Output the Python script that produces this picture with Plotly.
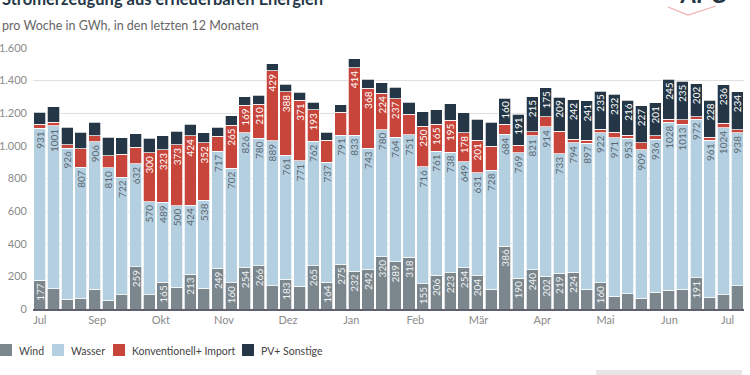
import plotly.graph_objects as go

# ---------------- data ----------------
weeks = list(range(52))
wind = [177,123,61,62,120,55,86,259,87,165,134,213,128,249,160,254,266,142,183,138,265,164,275,232,242,320,
        289,318,155,206,223,254,204,122,386,190,240,202,219,224,120,160,79,94,67,104,116,120,191,73,87,142]
wasser = [931,1001,926,807,906,810,722,632,570,489,500,424,538,717,702,826,780,889,761,771,762,737,791,833,743,780,
          764,751,716,761,738,649,631,728,684,769,821,914,733,794,897,922,971,953,909,936,1028,1013,972,961,1024,938]
konv = [24,20,21,112,35,74,141,102,300,323,373,424,352,92,265,169,210,429,388,371,193,133,139,414,368,224,
        237,125,250,165,195,178,201,149,63,44,25,64,138,23,18,19,33,17,43,22,20,27,17,18,28,18]
pv = [73,97,106,102,84,115,102,81,90,85,83,72,64,57,57,51,53,44,46,49,46,49,46,56,55,62,
      68,72,88,91,102,122,128,147,160,191,215,175,209,242,241,235,232,216,227,201,245,235,202,228,236,234]
series_names = ["Wind", "Wasser", "Konventionell+ Import", "PV+ Sonstige"]
month_labels = ["Jul", "Sep", "Okt", "Nov", "Dez", "Jan", "Feb", "Mär", "Apr", "Mai", "Jun", "Jul"]
month_ticks = [0, 4.19, 8.85, 13.47, 18.15, 22.78, 27.46, 32.09, 36.75, 41.37, 46.05, 50.3]

FONT = "Lato"
W, H = 750, 375
ML, MR, MT, MB = 33, 6, 48, 66
PW, PH = W - ML - MR, H - MT - MB

def px_x(p):
    return (p - ML) / PW

def px_y(p):
    return 1 - (p - MT) / PH

def labels(vals, always=False):
    return [str(v) if (always or v >= 150) else "" for v in vals]

styles = [
    # bar colour, label colour, always label, legend square x
    ("#7b868d", "#eef2f4", False, 0),
    ("#b4cfdf", "#5b6872", True, 52),
    ("#c8453b", "#ffffff", False, 113),
    ("#253746", "#ffffff", False, 242),
]

fig = go.Figure()
for name, vals, (col, tcol, always, sq_x) in zip(series_names, [wind, wasser, konv, pv], styles):
    fig.add_trace(go.Bar(
        x=weeks, y=vals, name=name, showlegend=False,
        marker=dict(color=col, line=dict(color="rgba(255,255,255,0.9)", width=0.8)),
        text=labels(vals, always), textposition="inside", insidetextanchor="end",
        textangle=-90, textfont=dict(family=FONT, size=10, color=tcol),
        constraintext="none", cliponaxis=False, hoverinfo="skip",
    ))
    # legend entry: coloured square + label
    fig.add_shape(type="rect", xref="paper", yref="paper",
                  x0=px_x(sq_x), x1=px_x(sq_x + 12), y0=px_y(356), y1=px_y(344),
                  fillcolor=col, line=dict(width=0))
    fig.add_annotation(text=name, xref="paper", yref="paper", x=px_x(sq_x + 17), y=px_y(350.5),
                       xanchor="left", yanchor="middle", showarrow=False,
                       font=dict(family=FONT, size=10.5, color="#444"))

fig.update_layout(
    width=W, height=H,
    barmode="stack", bargap=0.12,
    separators=",.",
    paper_bgcolor="white", plot_bgcolor="white",
    margin=dict(l=ML, r=MR, t=MT, b=MB, autoexpand=False),
    font=dict(family=FONT, color="#555"),
    uniformtext=dict(minsize=10, mode="show"),
    showlegend=False,
    xaxis=dict(range=[-0.5, 51.5], tickvals=month_ticks, ticktext=month_labels, automargin=False,
               showgrid=False, showline=True, linecolor="#5f5f6e", linewidth=1.5,
               ticks="", tickfont=dict(family=FONT, size=11, color="#8a8a8a"), zeroline=False),
    yaxis=dict(range=[0, 1600], dtick=200, tickformat=",d", showgrid=True, gridcolor="#e0e0e0",
               gridwidth=1, zeroline=False, ticks="", ticklabelstandoff=5, automargin=False,
               tickfont=dict(family=FONT, size=11, color="#8a8a8a")),
)

# title (partly cut at the top of the frame, as in the reference) and subtitle
fig.add_annotation(text="<b>Stromerzeugung aus erneuerbaren Energien</b>", xref="paper", yref="paper",
                   x=px_x(0), y=px_y(-1), xanchor="left", yanchor="middle", showarrow=False,
                   font=dict(family=FONT, size=16.5, color="#253746"))
fig.add_annotation(text="pro Woche in GWh, in den letzten 12 Monaten", xref="paper", yref="paper",
                   x=px_x(0), y=px_y(25.5), xanchor="left", yanchor="middle", showarrow=False,
                   font=dict(family=FONT, size=12.5, color="#666"))
# logo hint (cut at the top)
fig.add_annotation(text="<b><i>APG</i></b>", xref="paper", yref="paper",
                   x=px_x(703), y=px_y(-7), xanchor="center", yanchor="middle",
                   showarrow=False, font=dict(family=FONT, size=24, color="#253746"))
fig.add_shape(type="path", xref="paper", yref="paper",
              path=f"M {px_x(668)},{px_y(7)} L {px_x(688)},{px_y(15)} L {px_x(716)},{px_y(6)}",
              line=dict(color="#f2b0ac", width=1.2))
# grey button at the bottom right
fig.add_shape(type="rect", xref="paper", yref="paper",
              x0=px_x(596), x1=px_x(742), y0=px_y(385), y1=px_y(370),
              fillcolor="#e6e6e6", line=dict(width=0), layer="above")

fig.write_html("out.html", config={"displayModeBar": False},
               post_script="document.body.style.margin='0';document.body.style.overflow='hidden';")
